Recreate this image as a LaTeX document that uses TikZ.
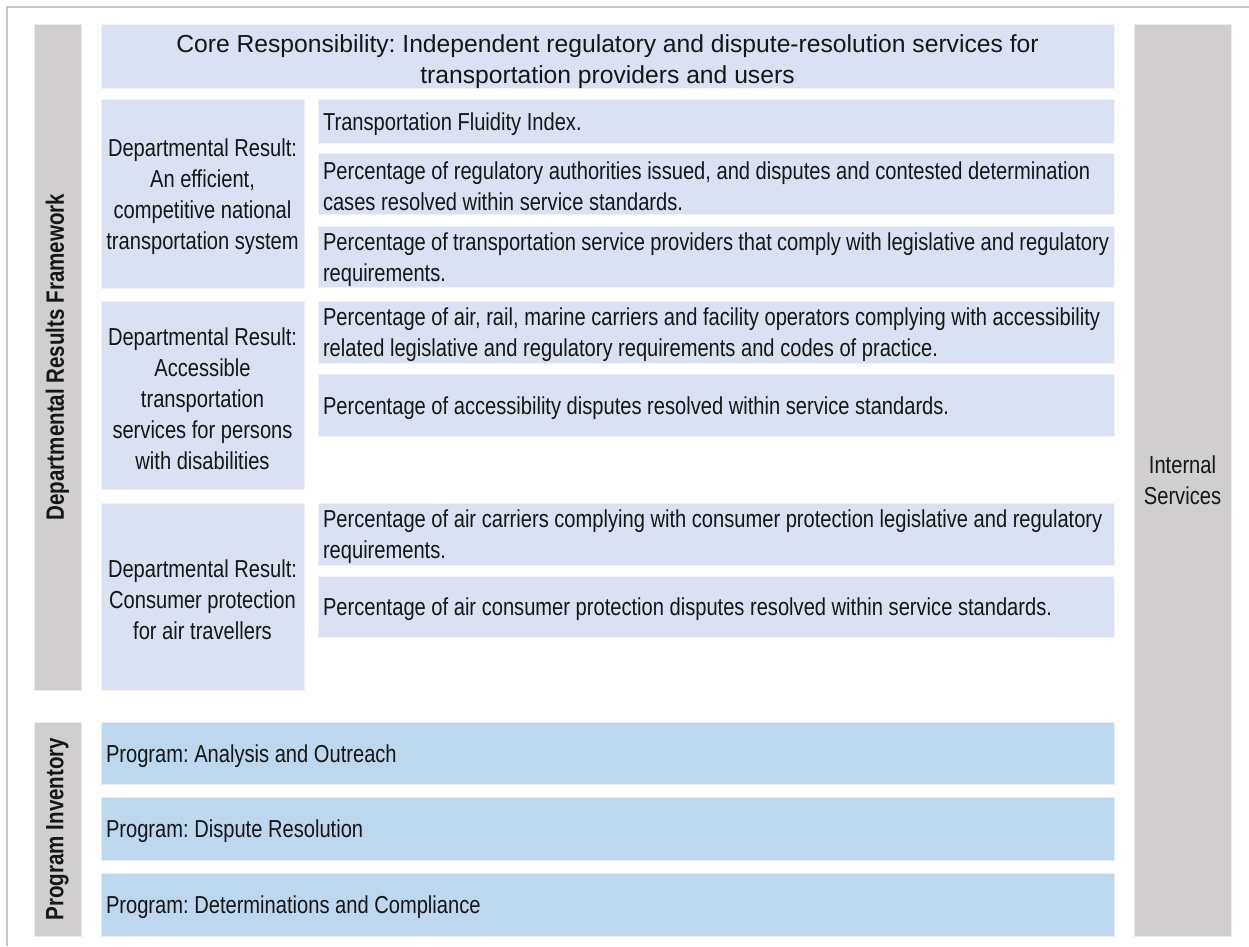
\documentclass[tikz,border=0pt]{standalone}
\usepackage{fontspec}
\setmainfont{Liberation Sans}
\newfontfamily\narrowfont[FakeStretch=0.82]{Liberation Sans}
\frenchspacing

\definecolor{lav}{HTML}{D9E1F2}
\definecolor{progblue}{HTML}{BDD7EE}
\definecolor{bargray}{HTML}{D0CECE}
\definecolor{framegray}{HTML}{C6C6C6}
\definecolor{ink}{HTML}{161616}

\begin{document}
\begin{tikzpicture}[x=0.75pt,y=-0.75pt,
  cell/.style={inner sep=0pt, outer sep=0pt, line width=0.6pt, anchor=north west},
  size/.style 2 args={minimum width={#1*0.75pt}, minimum height={#2*0.75pt}},
  % a tall strut on the first line sets the text block a little lower in its box
  lower/.style={execute at begin node={\rule{0pt}{#1}}},
  txt/.style={font=\narrowfont\fontsize{18.4pt}{23.25pt}\selectfont, text=ink},
  corebox/.style={cell, fill=lav, draw=lav!40!white, text=ink, text width=740pt,
    align=flush center, lower=21pt, font=\fontsize{18.5pt}{23.25pt}\selectfont},
  indicator/.style={cell, fill=lav, draw=lav!40!white, txt, text width=589.5pt,
    inner xsep=3.75pt, align=flush left, lower=18pt, size={796}{#1}},
  result/.style={cell, fill=lav, draw=lav!40!white, txt, text width=152pt,
    align=flush center, lower=18.5pt},
  program/.style={cell, fill=progblue, draw=progblue!40!white, txt, text width=752.25pt,
    inner xsep=3.75pt, align=flush left, lower=18pt, size={1013}{#1}},
  sidebar/.style={cell, fill=bargray, draw=bargray!40!white},
  sidelabel/.style={txt, rotate=90, font=\narrowfont\bfseries\fontsize{18.8pt}{23.25pt}\selectfont},
]
\useasboundingbox (0,0) rectangle (1249,946);
\fill[white] (0,0) rectangle (1249,946);

% outer frame
\draw[framegray, line width=0.9pt] (7,946) -- (7,7) -- (1249,7);

% side bars
\node[sidebar, size={47}{666}] (drfbar) at (34,24) {};
\node[sidelabel] (drflabel) at (drfbar.center) {Departmental Results Framework};
\node[sidebar, size={47}{214}] (pibar) at (34,722) {};
\node[sidelabel] (pilabel) at (pibar.center) {Program Inventory};
\node[sidebar, size={97}{912}] (isbar) at (1134,24) {};
\node[txt, align=center] (islabel) at (isbar.center) {Internal\\Services};

% core responsibility
\node[corebox, size={1013}{62}] (core) at (101,24) {Core Responsibility: Independent regulatory and dispute-resolution services for\\transportation providers and users};

% departmental results
\node[result, size={203}{189}] (dr1) at (101,99) {Departmental Result:\\An efficient,\\competitive national\\transportation system};
\node[result, size={203}{188}] (dr2) at (101,301) {Departmental Result:\\Accessible\\transportation\\services for persons\\with disabilities};
\node[result, size={203}{187}] (dr3) at (101,503) {Departmental Result:\\Consumer protection\\for air travellers};

% indicators
\node[indicator=44] (ind1) at (318,99) {Transportation Fluidity Index.};
\node[indicator=61] (ind2) at (318,153) {Percentage of regulatory authorities issued, and disputes and contested determination\\cases resolved within service standards.};
\node[indicator=61] (ind3) at (318,226) {Percentage of transportation service providers that comply with legislative and regulatory\\requirements.};
\node[indicator=62] (ind4) at (318,301) {Percentage of air, rail, marine carriers and facility operators complying with accessibility\\related legislative and regulatory requirements and codes of practice.};
\node[indicator=62] (ind5) at (318,374) {Percentage of accessibility disputes resolved within service standards.};
\node[indicator=62] (ind6) at (318,503) {Percentage of air carriers complying with consumer protection legislative and regulatory\\requirements.};
\node[indicator=61] (ind7) at (318,576) {Percentage of air consumer protection disputes resolved within service standards.};

% programs
\node[program=62] (prog1) at (101,722) {Program: Analysis and Outreach};
\node[program=63] (prog2) at (101,797) {Program: Dispute Resolution};
\node[program=63] (prog3) at (101,873) {Program: Determinations and Compliance};
\end{tikzpicture}
\end{document}
